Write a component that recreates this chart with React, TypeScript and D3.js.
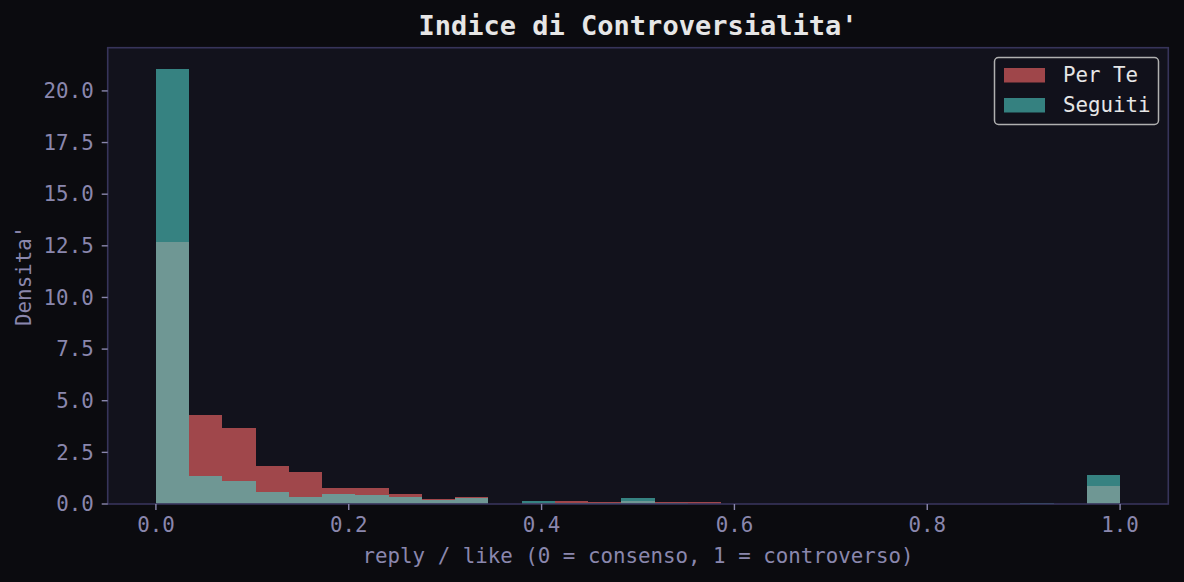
import React from "react";
import * as d3 from "d3";

const binCount = 29;
const binEdges = d3.range(binCount + 1).map((i) => i / binCount);
const perTe = [12.69, 4.3, 3.68, 1.83, 1.54, 0.76, 0.76, 0.47, 0.23, 0.33, 0, 0.07, 0.16, 0.11, 0.16, 0.11, 0.08, 0, 0, 0, 0.02, 0.02, 0.02, 0, 0, 0, 0, 0.02, 0.89];
const seguiti = [21.04, 1.35, 1.1, 0.57, 0.33, 0.47, 0.42, 0.32, 0.18, 0.28, 0, 0.16, 0.07, 0.03, 0.31, 0.03, 0, 0, 0.02, 0.02, 0, 0, 0, 0.02, 0, 0.02, 0.06, 0, 1.42];
const xTicks = [0, 0.2, 0.4, 0.6, 0.8, 1.0];
const yTicks = [0, 2.5, 5, 7.5, 10, 12.5, 15, 17.5, 20];
const seriesNames = ["Per Te", "Seguiti"];
const seriesColors = ["#ff6b6b", "#4ecdc4"];

const W = 1184;
const H = 582;
const M = { left: 107.7, right: 1168.3, top: 47.7, bottom: 504 };
const FONT = "'DejaVu Sans Mono', monospace";
const TICK_COLOR = "#8a87ad";

export default function App() {
  const allMax = d3.max([...perTe, ...seguiti]) as number;
  const x = d3.scaleLinear().domain([-0.05, 1.05]).range([M.left, M.right]);
  const y = d3.scaleLinear().domain([0, allMax * 1.05]).range([M.bottom, M.top]);
  const series = [perTe, seguiti];

  return (
    <svg width={W} height={H} style={{ position: "absolute", left: 0, top: 0, background: "#0b0b0f" }} fontFamily={FONT}>
      <rect x={0} y={0} width={W} height={H} fill="#0b0b0f" />
      <rect x={M.left} y={M.top} width={M.right - M.left} height={M.bottom - M.top} fill="#12121c" />
      {series.map((vals, si) => (
        <g key={si} fill={seriesColors[si]} fillOpacity={0.6} shapeRendering="crispEdges">
          {vals.map((v, i) =>
            v > 0 ? (
              <rect
                key={i}
                x={Math.round(x(binEdges[i]))}
                y={y(v)}
                width={Math.round(x(binEdges[i + 1])) - Math.round(x(binEdges[i]))}
                height={y(0) - y(v)}
              />
            ) : null
          )}
        </g>
      ))}
      <rect x={M.left} y={M.top} width={M.right - M.left} height={M.bottom - M.top} fill="none" stroke="#37345a" strokeWidth={1.6} />
      {xTicks.map((t) => (
        <g key={t}>
          <line x1={x(t)} x2={x(t)} y1={M.bottom} y2={M.bottom + 6} stroke={TICK_COLOR} strokeWidth={1.4} />
          <text x={x(t)} y={M.bottom + 28} textAnchor="middle" fill={TICK_COLOR} fontSize={20.8}>
            {t.toFixed(1)}
          </text>
        </g>
      ))}
      {yTicks.map((t) => (
        <g key={t}>
          <line x1={M.left - 6} x2={M.left} y1={y(t)} y2={y(t)} stroke={TICK_COLOR} strokeWidth={1.4} />
          <text x={M.left - 14} y={y(t)} dy="0.35em" textAnchor="end" fill={TICK_COLOR} fontSize={20.8}>
            {t.toFixed(1)}
          </text>
        </g>
      ))}
      <text x={(M.left + M.right) / 2} y={563} textAnchor="middle" fill={TICK_COLOR} fontSize={20.8}>
        reply / like (0 = consenso, 1 = controverso)
      </text>
      <text
        transform={`translate(31, ${(M.top + M.bottom) / 2}) rotate(-90)`}
        textAnchor="middle"
        fill={TICK_COLOR}
        fontSize={20.8}
      >
        Densita'
      </text>
      <text x={(M.left + M.right) / 2} y={35} textAnchor="middle" fill="#e6e6e6" fontSize={27} fontWeight="bold">
        Indice di Controversialita'
      </text>
      <g>
        <rect x={994.5} y={57.5} width={164} height={67} rx={4} fill="#12121c" fillOpacity={0.8} stroke="#b0b0b0" strokeWidth={1.5} />
        {seriesNames.map((n, i) => (
          <g key={n}>
            <rect x={1004} y={68 + i * 30} width={41} height={14.5} fill={seriesColors[i]} fillOpacity={0.6} />
            <text x={1063} y={75 + i * 30} dy="0.35em" fill="#e6e6e6" fontSize={20.8}>
              {n}
            </text>
          </g>
        ))}
      </g>
    </svg>
  );
}
